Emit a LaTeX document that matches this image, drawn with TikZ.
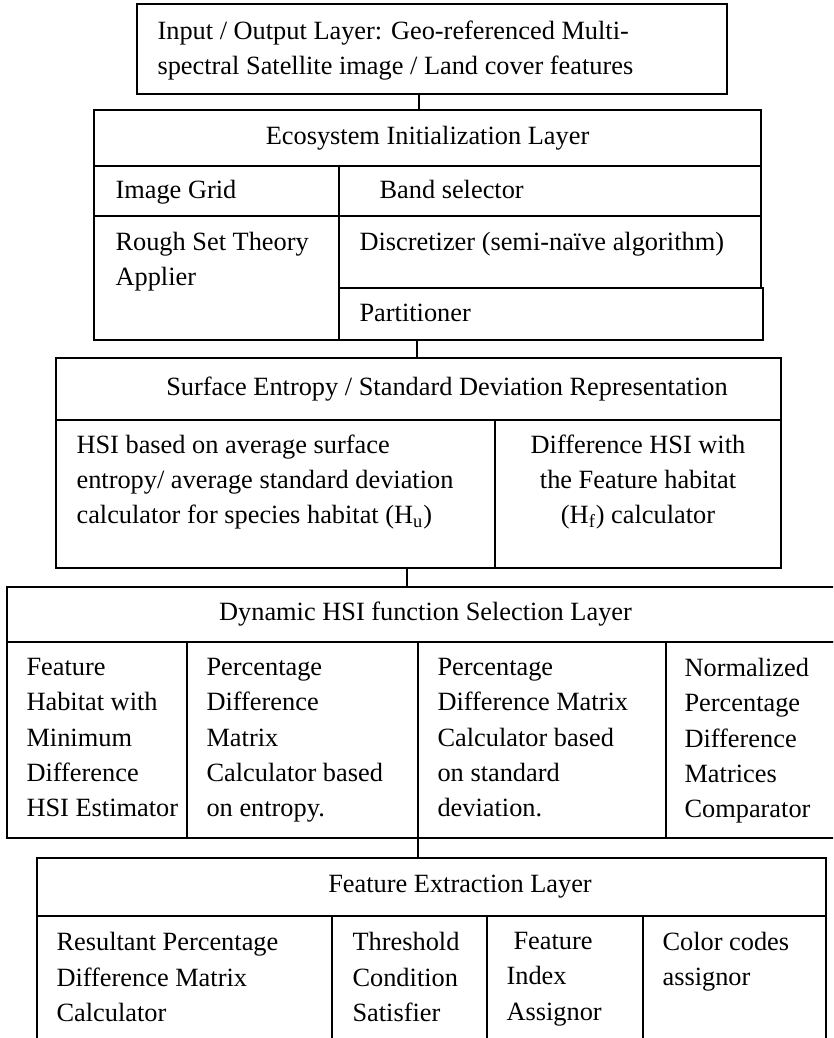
\documentclass[tikz,border=0pt]{standalone}
\usepackage{fontspec}
\setmainfont{Liberation Serif}
\usetikzlibrary{positioning,fit}

\tikzset{
  cell/.style={draw, rectangle, inner sep=0pt, line width=0.9pt},
  txt/.style={anchor=north west, align=left, inner sep=0pt, font=\fontsize{15}{20}\selectfont},
  head/.style={inner sep=0pt, font=\fontsize{15}{20}\selectfont},
  link/.style={line width=1.6pt}
}

\begin{document}
\begin{tikzpicture}[x=0.02cm, y=-0.02cm]
    \clip (0,0) rectangle (833,1038);

    % Input / output layer
    \node [cell, fit={(137,4) (727,94)}] (io) {};
    \node [txt] at ([shift={(21,17)}]io.north west) {Input / Output Layer: Geo-referenced Multi-\\spectral Satellite image / Land cover features};

    % Ecosystem initialization layer
    \node [cell, fit={(94,110) (761,166)}] (ecohead) {};
    \node [cell, fit={(94,166) (339,216)}] (grid) {};
    \node [cell, fit={(339,166) (761,216)}] (band) {};
    \node [cell, fit={(94,216) (339,340)}] (rough) {};
    \node [cell, fit={(339,216) (761,288)}] (discr) {};
    \node [cell, fit={(339,288) (763,340)}] (part) {};
    \node [head] at (ecohead) {Ecosystem Initialization Layer};
    \node [txt] at ([shift={(22,15)}]grid.north west) {Image Grid};
    \node [txt] at ([shift={(41,15)}]band.north west) {Band selector};
    \node [txt] at ([shift={(22,17)}]rough.north west) {Rough Set Theory\\Applier};
    \node [txt] at ([shift={(21,17)}]discr.north west) {Discretizer (semi-naïve algorithm)};
    \node [txt] at ([shift={(21,16)}]part.north west) {Partitioner};

    % Surface entropy / standard deviation layer
    \node [cell, fit={(56,358) (781,420)}] (surfhead) {};
    \node [cell, fit={(56,420) (495,568)}] (hsiavg) {};
    \node [cell, fit={(495,420) (781,568)}] (hsidiff) {};
    \node [head] at ([xshift=0.57cm]surfhead) {Surface Entropy / Standard Deviation Representation};
    \node [txt] at ([shift={(21,15)}]hsiavg.north west) {HSI based on average surface\\entropy/ average standard deviation\\calculator for species habitat (H\textsubscript{u})};
    \node [txt, anchor=north, align=center] at ([shift={(0,15)}]hsidiff.north) {Difference HSI with\\the Feature habitat\\(H\textsubscript{f}) calculator};

    % Dynamic HSI function selection layer
    \node [cell, fit={(7,587) (840,642)}] (dynhead) {};
    \node [cell, fit={(7,642) (187,838)}] (dmin) {};
    \node [cell, fit={(187,642) (418,838)}] (dent) {};
    \node [cell, fit={(418,642) (666,838)}] (dstd) {};
    \node [cell, fit={(666,642) (840,838)}] (dnorm) {};
    \node [head] at ([xshift=0.04cm]dynhead) {Dynamic HSI function Selection Layer};
    \node [txt] at ([shift={(20,17)}]dmin.north west) {Feature\\Habitat with\\Minimum\\Difference\\HSI Estimator};
    \node [txt] at ([shift={(20,17)}]dent.north west) {Percentage\\Difference\\Matrix\\Calculator based\\on entropy.};
    \node [txt] at ([shift={(20,17)}]dstd.north west) {Percentage\\Difference Matrix\\Calculator based\\on standard\\deviation.};
    \node [txt] at ([shift={(19,17)}]dnorm.north west) {Normalized\\Percentage\\Difference\\Matrices\\Comparator};

    % Feature extraction layer
    \node [cell, fit={(37,858) (826,916)}] (fehead) {};
    \node [cell, fit={(37,916) (332,1050)}] (fres) {};
    \node [cell, fit={(332,916) (487,1050)}] (fthr) {};
    \node [cell, fit={(487,916) (643,1050)}] (fidx) {};
    \node [cell, fit={(643,916) (826,1050)}] (fcol) {};
    \node [head] at ([xshift=0.57cm]fehead) {Feature Extraction Layer};
    \node [txt] at ([shift={(20,17)}]fres.north west) {Resultant Percentage\\Difference Matrix\\Calculator};
    \node [txt] at ([shift={(21,17)}]fthr.north west) {Threshold\\Condition\\Satisfier};
    \node [txt] at ([shift={(20,17)}]fidx.north west) {\hspace{0.14cm}Feature\\Index\\Assignor};
    \node [txt] at ([shift={(20,17)}]fcol.north west) {Color codes\\assignor};

    % Links between layers
    \coordinate (c1) at (419,0);
    \coordinate (c2) at (417,0);
    \coordinate (c3) at (407,0);
    \coordinate (c4) at (418,0);
    \draw [link] (io.south -| c1) -- (ecohead.north -| c1);
    \draw [link] (part.south -| c2) -- (surfhead.north -| c2);
    \draw [link] (hsiavg.south -| c3) -- (dynhead.north -| c3);
    \draw [link] (dent.south -| c4) -- (fehead.north -| c4);
  \end{tikzpicture}
\end{document}
